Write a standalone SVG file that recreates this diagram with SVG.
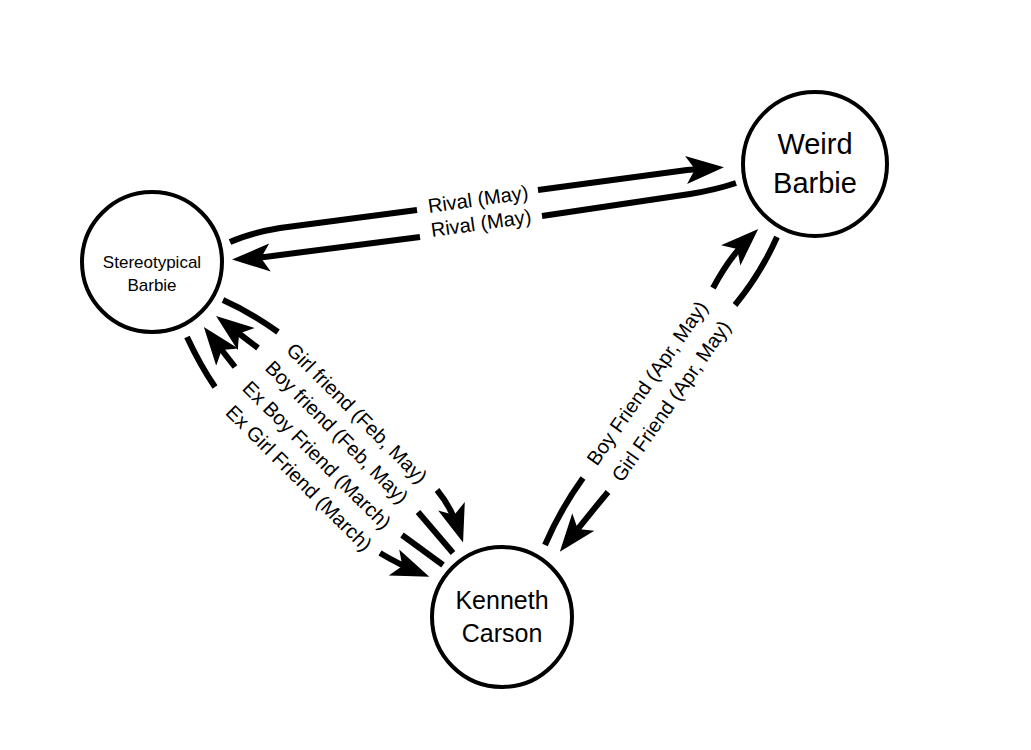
<svg xmlns="http://www.w3.org/2000/svg" width="1031" height="750" viewBox="0 0 1031 750">
<style>
.n{fill:#fff;stroke:#000;stroke-width:4}
.t{font-family:"Liberation Sans",Arial,sans-serif;fill:#000;text-anchor:middle;dominant-baseline:central}
.e{fill:none;stroke:#000;stroke-width:6}
.l{font-family:"Liberation Sans",Arial,sans-serif;font-size:20px;fill:#000;text-anchor:middle;dominant-baseline:central}
</style>
<defs>
<marker id="a" markerUnits="userSpaceOnUse" markerWidth="40" markerHeight="30" refX="28" refY="14" orient="auto" viewBox="0 0 40 28">
<path d="M0,0 L38,14 L0,28 L9,14 z" fill="#000"/>
</marker>
</defs>
<rect width="1031" height="750" fill="#fff"/>
<g id="connectors">
<path class="e" d="M230,242 Q250,233 280,228 L417,210"/>
<path class="e" d="M538,190 L687,170 Q700,169 714,168" marker-end="url(#a)"/>
<text class="l" transform="translate(478,199) rotate(-8)">Rival (May)</text>
<path class="e" d="M736,183 Q715,190 690,194 L542,216"/>
<path class="e" d="M420,237 L280,255 Q260,258 242,259" marker-end="url(#a)"/>
<text class="l" transform="translate(481,223) rotate(-8)">Rival (May)</text>

<path class="e" d="M223,300 Q250,312 278,332"/>
<path class="e" d="M437,490 Q452,508 460,533" marker-end="url(#a)"/>
<text class="l" transform="translate(357,413) rotate(45)">Girl friend (Feb, May)</text>
<path class="e" d="M453,553 L418,512"/>
<path class="e" d="M258,348 L224,322" marker-end="url(#a)"/>
<text class="l" transform="translate(337,432) rotate(45)">Boy friend (Feb, May)</text>
<path class="e" d="M443,565 L402,535"/>
<path class="e" d="M235,367 L210,335" marker-end="url(#a)"/>
<text class="l" transform="translate(317,455) rotate(45)">Ex Boy Friend (March)</text>
<path class="e" d="M187,337 Q200,365 215,387"/>
<path class="e" d="M380,553 Q400,565 420,573" marker-end="url(#a)"/>
<text class="l" transform="translate(299,478) rotate(45)">Ex Girl Friend (March)</text>

<path class="e" d="M545,545 Q560,510 583,478"/>
<path class="e" d="M713,288 Q730,256 751,236" marker-end="url(#a)"/>
<text class="l" transform="translate(647,383) rotate(-55)">Boy Friend (Apr, May)</text>
<path class="e" d="M777,237 Q760,275 735,305"/>
<path class="e" d="M608,492 Q588,516 566,544" marker-end="url(#a)"/>
<text class="l" transform="translate(671,401) rotate(-55)">Girl Friend (Apr, May)</text>
</g>
<g id="stereotypical">
<circle class="n" cx="152" cy="262" r="70"/>
<text class="t" x="152" y="262" font-size="17">Stereotypical</text>
<text class="t" x="152" y="285" font-size="17">Barbie</text>
</g>
<g id="weird">
<circle class="n" cx="815" cy="164" r="72"/>
<text class="t" x="815" y="144" font-size="29">Weird</text>
<text class="t" x="815" y="183" font-size="29">Barbie</text>
</g>
<g id="kenneth">
<circle class="n" cx="502" cy="617" r="70"/>
<text class="t" x="502" y="600" font-size="25">Kenneth</text>
<text class="t" x="502" y="633" font-size="25">Carson</text>
</g>
</svg>
